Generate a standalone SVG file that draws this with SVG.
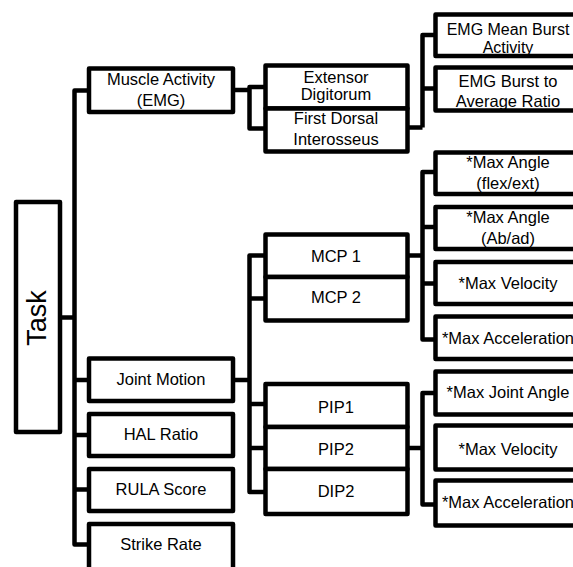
<svg xmlns="http://www.w3.org/2000/svg" width="573" height="567" viewBox="0 0 573 567">
<style>
.box{fill:#fff;stroke:#000;stroke-width:4.5;stroke-linejoin:round}
.c{fill:none;stroke:#000;stroke-width:4.5;stroke-linejoin:round}
text{font-family:"Liberation Sans",Arial,sans-serif;font-size:16.5px;fill:#000;text-anchor:middle}
</style>
<rect width="573" height="567" fill="#fff"/>
<g id="connectors">
<path class="c" d="M89,90.5 H74.5 V544.5 H89"/>
<path class="c" d="M62,317.5 H74.5"/>
<path class="c" d="M74.5,380 H89 M74.5,435 H89 M74.5,489.5 H89"/>
<path class="c" d="M233,90 H249.5 M265.5,87 H249.5 V128.5 H265.5"/>
<path class="c" d="M407.5,127.5 H422.5 M435.5,35 H422.5 V127.5 M422.5,88.5 H435.5"/>
<path class="c" d="M233,380 H249.5 M265.5,255.5 H249.5 V492 H265.5 M249.5,298.5 H265.5 M249.5,404 H265.5 M249.5,448 H265.5"/>
<path class="c" d="M407.5,255.5 H422.5 M435.5,172 H422.5 V339.5 H435.5 M422.5,227 H435.5 M422.5,283.5 H435.5"/>
<path class="c" d="M407.5,448 H422.5 M435.5,393 H422.5 V504.5 H435.5"/>
</g>
<g id="task">
<rect class="box" x="16" y="202" width="44" height="230"/>
<text transform="translate(46,318) rotate(-90)" style="font-size:27px">Task</text>
</g>
<g id="muscle">
<rect class="box" x="89" y="68.5" width="144" height="43.5"/>
<text x="161" y="85">Muscle Activity</text>
<text x="161" y="106">(EMG)</text>
</g>
<g id="joint">
<rect class="box" x="89" y="358.5" width="144" height="42.5"/>
<text x="161" y="385">Joint Motion</text>
</g>
<g id="hal">
<rect class="box" x="89" y="414" width="144" height="42"/>
<text x="161" y="440">HAL Ratio</text>
</g>
<g id="rula">
<rect class="box" x="89" y="469" width="144" height="42"/>
<text x="161" y="495">RULA Score</text>
</g>
<g id="strike">
<rect class="box" x="89" y="524" width="144" height="46"/>
<text x="161" y="550">Strike Rate</text>
</g>
<g id="extensor">
<rect class="box" x="265.5" y="65.5" width="142" height="43"/>
<text x="336" y="83">Extensor</text>
<text x="336" y="99.5">Digitorum</text>
</g>
<g id="dorsal">
<rect class="box" x="265.5" y="108.5" width="142" height="43"/>
<text x="336" y="124">First Dorsal</text>
<text x="336" y="145">Interosseus</text>
</g>
<g id="mcp1">
<rect class="box" x="265.5" y="234.5" width="142" height="42.5"/>
<text x="336" y="262">MCP 1</text>
</g>
<g id="mcp2">
<rect class="box" x="265.5" y="277" width="142" height="43.5"/>
<text x="336" y="303">MCP 2</text>
</g>
<g id="pip1">
<rect class="box" x="265.5" y="384" width="142" height="43"/>
<text x="336" y="412.5">PIP1</text>
</g>
<g id="pip2">
<rect class="box" x="265.5" y="427" width="142" height="42"/>
<text x="336" y="455">PIP2</text>
</g>
<g id="dip2">
<rect class="box" x="265.5" y="469" width="142" height="45"/>
<text x="336" y="497">DIP2</text>
</g>
<g id="emg-mean">
<rect class="box" x="435.5" y="14.5" width="147" height="41.5"/>
<text x="508" y="34.5" style="font-size:16px">EMG Mean Burst</text>
<text x="508" y="52.5" style="font-size:16px">Activity</text>
</g>
<g id="emg-ratio">
<rect class="box" x="435.5" y="67.5" width="147" height="43"/>
<text x="508" y="87">EMG Burst to</text>
<text x="508" y="107">Average Ratio</text>
</g>
<g id="mcp-angle-fe">
<rect class="box" x="435.5" y="152.5" width="147" height="41.5"/>
<text x="508" y="168">*Max Angle</text>
<text x="508" y="188.5">(flex/ext)</text>
</g>
<g id="mcp-angle-ab">
<rect class="box" x="435.5" y="207" width="147" height="42"/>
<text x="508" y="223">*Max Angle</text>
<text x="508" y="244">(Ab/ad)</text>
</g>
<g id="mcp-velocity">
<rect class="box" x="435.5" y="262" width="147" height="42"/>
<text x="508" y="288.5">*Max Velocity</text>
</g>
<g id="mcp-accel">
<rect class="box" x="435.5" y="316.5" width="147" height="42.5"/>
<text x="508" y="344">*Max Acceleration</text>
</g>
<g id="pip-angle">
<rect class="box" x="435.5" y="371.5" width="147" height="43"/>
<text x="508" y="398">*Max Joint Angle</text>
</g>
<g id="pip-velocity">
<rect class="box" x="435.5" y="425.5" width="147" height="44"/>
<text x="508" y="455">*Max Velocity</text>
</g>
<g id="pip-accel">
<rect class="box" x="435.5" y="480.5" width="147" height="45"/>
<text x="508" y="508">*Max Acceleration</text>
</g>
</svg>
